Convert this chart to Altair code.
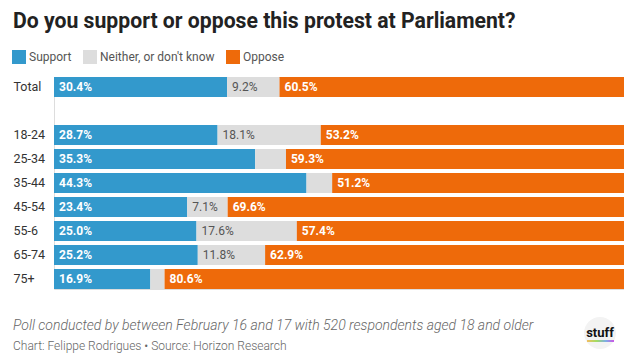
import altair as alt
import pandas as pd

# ---- data ----
groups = ["Total", "18-24", "25-34", "35-44", "45-54", "55-6", "65-74", "75+"]
support = [30.4, 28.7, 35.3, 44.3, 23.4, 25.0, 25.2, 16.9]
neither = [9.2, 18.1, 5.4, 4.5, 7.1, 17.6, 11.8, 2.5]
oppose = [60.5, 53.2, 59.3, 51.2, 69.6, 57.4, 62.9, 80.6]
neither_shown = [True, True, False, False, True, True, True, False]

categories = ["Support", "Neither, or don't know", "Oppose"]
colors = ["#3399cc", "#dddddd", "#ee6a0a"]
row_order = ["Total", " ", "18-24", "25-34", "35-44", "45-54", "55-6", "65-74", "75+"]

title_text = "Do you support or oppose this protest at Parliament?"
note_text = "Poll conducted by between February 16 and 17 with 520 respondents aged 18 and older"
credit_text = "Chart: Felippe Rodrigues \u2022 Source: Horizon Research"
logo_text = "stuff"

rows = []
for i, g in enumerate(groups):
    for k, (cat, vals) in enumerate(zip(categories, [support, neither, oppose])):
        v = vals[i]
        show = True if k != 1 else neither_shown[i]
        rows.append(dict(group=g, category=cat, order=k, value=v,
                         label=f"{v:.1f}%" if show else ""))
df = pd.DataFrame(rows)

FONT = "Roboto"

y_enc = alt.Y(
    "group:N",
    scale=alt.Scale(domain=row_order, paddingInner=1 / 6, paddingOuter=0),
    axis=alt.Axis(title=None, ticks=False, tickSize=0, domain=False,
                  labelAlign="left", labelPadding=41, labelFontSize=12.5,
                  labelColor="#333333", labelFont=FONT),
)
x_scale = alt.Scale(domain=[0, 1], nice=False, zero=True)

base = alt.Chart(df).transform_stack(
    stack="value", groupby=["group"], as_=["x0", "x1"], offset="normalize",
    sort=[alt.SortField("order", "ascending")],
)

bars = base.mark_bar().encode(
    y=y_enc,
    x=alt.X("x0:Q", scale=x_scale, axis=None),
    x2="x1:Q",
    color=alt.Color(
        "category:N",
        scale=alt.Scale(domain=categories, range=colors),
        legend=alt.Legend(orient="none", legendX=-42, legendY=-27,
                          direction="horizontal", title=None,
                          symbolType="square", symbolSize=196,
                          symbolStrokeWidth=0, symbolOpacity=1,
                          labelFontSize=12, labelFont=FONT,
                          labelColor="#555555", labelOffset=3,
                          columnPadding=11, padding=0),
    ),
)

bold_text = base.transform_filter("datum.order != 1").mark_text(
    align="left", baseline="middle", dx=5, color="white",
    fontWeight="bold", fontSize=12, font=FONT,
).encode(y=y_enc, x=alt.X("x0:Q", scale=x_scale, axis=None), text="label:N")

grey_text = base.transform_filter("datum.order == 1").mark_text(
    align="left", baseline="middle", dx=5, color="#555555",
    fontSize=12, font=FONT,
).encode(y=y_enc, x=alt.X("x0:Q", scale=x_scale, axis=None), text="label:N")


def one(t):
    return alt.Chart(pd.DataFrame({"t": [t]}))


title = one(title_text).mark_text(
    align="left", baseline="alphabetic", fontSize=21.2, fontWeight="bold",
    font=FONT, color="#222222",
).encode(x=alt.value(-41), y=alt.value(-49), text="t:N")

note = one(note_text).mark_text(
    align="left", baseline="alphabetic", fontSize=14, fontStyle="italic",
    fontWeight=300, font=FONT, color="#666666",
).encode(x=alt.value(-41), y=alt.value(253), text="t:N")

credit = one(credit_text).mark_text(
    align="left", baseline="alphabetic", fontSize=12, fontWeight=300,
    font=FONT, color="#666666",
).encode(x=alt.value(-41), y=alt.value(273), text="t:N")

circle = one(logo_text).mark_circle(size=1018, color="#f3f3f3", opacity=1).encode(
    x=alt.value(546), y=alt.value(256))

logo = one(logo_text).mark_text(
    align="center", baseline="alphabetic", fontSize=13, fontWeight="bold",
    font=FONT, color="#111111",
).encode(x=alt.value(546), y=alt.value(260), text="t:N")

underline = one(logo_text).mark_rect(
    fill=alt.Gradient(
        gradient="linear",
        stops=[alt.GradientStop(color="#f5a623", offset=0),
               alt.GradientStop(color="#7ed321", offset=0.35),
               alt.GradientStop(color="#4a90e2", offset=0.7),
               alt.GradientStop(color="#bd10e0", offset=1)],
        x1=0, x2=1, y1=0, y2=0,
    ),
    opacity=0.7,
).encode(x=alt.value(533), x2=alt.value(560), y=alt.value(263), y2=alt.value(265))

chart = alt.layer(
    bars, bold_text, grey_text, title, note, credit, circle, logo, underline
).properties(
    width=570, height=212, autosize="none",
    padding={"left": 46, "top": 69, "right": 0, "bottom": 65},
    background="white",
).configure_view(stroke=None).configure(font=FONT)

chart.save("out.html", embed_options={"renderer": "svg", "actions": False})
